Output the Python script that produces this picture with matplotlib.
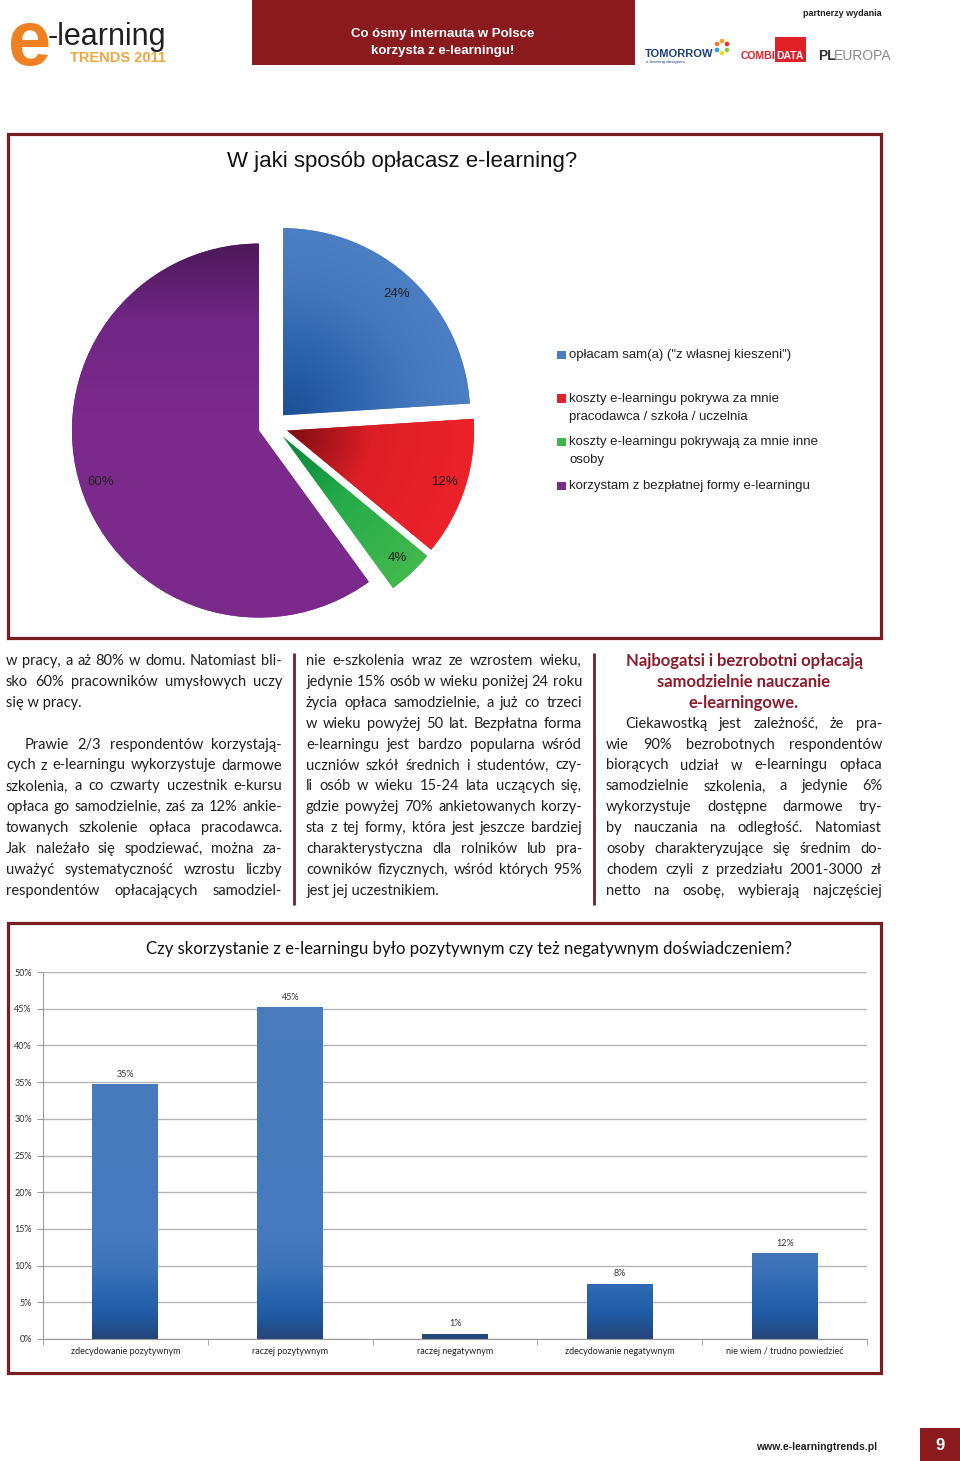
import numpy as np
import matplotlib
matplotlib.use("Agg")
import matplotlib.pyplot as plt
from matplotlib.patches import Rectangle, Circle
from matplotlib.colors import LinearSegmentedColormap

# ---------------- data ----------------
banner_lines = ["Co ósmy internauta w Polsce", "korzysta z e-learningu!"]

pie_title = "W jaki sposób opłacasz e-learning?"
pie_labels = ['opłacam sam(a) ("z własnej kieszeni")',
              'koszty e-learningu pokrywa za mnie\npracodawca / szkoła / uczelnia',
              'koszty e-learningu pokrywają za mnie inne\nosoby',
              'korzystam z bezpłatnej formy e-learningu']
pie_values = [24, 12, 4, 60]
pie_colors = ['#4a7cc1', '#e6212a', '#3db54b', '#7b2a8b']

bar_title = "Czy skorzystanie z e-learningu było pozytywnym czy też negatywnym doświadczeniem?"
bar_categories = ["zdecydowanie pozytywnym", "raczej pozytywnym", "raczej negatywnym",
                  "zdecydowanie negatywnym", "nie wiem / trudno powiedzieć"]
bar_values = [34.7, 45.2, 0.7, 7.5, 11.7]
bar_value_labels = ["35%", "45%", "1%", "8%", "12%"]
y_tick_values = [0, 5, 10, 15, 20, 25, 30, 35, 40, 45, 50]
y_tick_labels = ["0%", "5%", "10%", "15%", "20%", "25%", "30%", "35%", "40%", "45%", "50%"]

col1_paragraphs = [
    ["w pracy, a aż 80% w domu. Natomiast bli-",
     "sko 60% pracowników umysłowych uczy",
     "się w pracy."],
    [],
    ["Prawie 2/3 respondentów korzystają-",
     "cych z e-learningu wykorzystuje darmowe",
     "szkolenia, a co czwarty uczestnik e-kursu",
     "opłaca go samodzielnie, zaś za 12% ankie-",
     "towanych szkolenie opłaca pracodawca.",
     "Jak należało się spodziewać, można za-",
     "uważyć systematyczność wzrostu liczby",
     "respondentów opłacających samodziel-"],
]
col2_paragraphs = [
    ["nie e-szkolenia wraz ze wzrostem wieku,",
     "jedynie 15% osób w wieku poniżej 24 roku",
     "życia opłaca samodzielnie, a już co trzeci",
     "w wieku powyżej 50 lat. Bezpłatna forma",
     "e-learningu jest bardzo popularna wśród",
     "uczniów szkół średnich i studentów, czy-",
     "li osób w wieku 15-24 lata uczących się,",
     "gdzie powyżej 70% ankietowanych korzy-",
     "sta z tej formy, która jest jeszcze bardziej",
     "charakterystyczna dla rolników lub pra-",
     "cowników fizycznych, wśród których 95%",
     "jest jej uczestnikiem."],
]
col3_heading = ["Najbogatsi i bezrobotni opłacają", "samodzielnie nauczanie", "e-learningowe."]
col3_paragraphs = [
    ["Ciekawostką jest zależność, że pra-",
     "wie 90% bezrobotnych respondentów",
     "biorących udział w e-learningu opłaca",
     "samodzielnie szkolenia, a jedynie 6%",
     "wykorzystuje dostępne darmowe try-",
     "by nauczania na odległość. Natomiast",
     "osoby charakteryzujące się średnim do-",
     "chodem czyli z przedziału 2001-3000 zł",
     "netto na osobę, wybierają najczęściej"],
]
footer_url = "www.e-learningtrends.pl"
page_number = "9"

# ---------------- figure ----------------
W, H = 960, 1461
DARK_RED = '#7b1e22'
fig = plt.figure(figsize=(W / 100, H / 100), dpi=100)
fig.patch.set_facecolor('white')
bg = fig.add_axes([0, 0, 1, 1])
bg.set_xlim(0, W)
bg.set_ylim(H, 0)
bg.axis('off')
renderer = fig.canvas.get_renderer()

# ---------- header ----------
bg.text(30, 65, 'e', color='#f08122', fontsize=56, fontweight='bold',
        family='Liberation Sans', ha='center', va='baseline')
bg.text(48, 45, '-learning', color='#231f20', fontsize=22, family='Liberation Sans',
        ha='left', va='baseline')
bg.text(70, 58, 'TRENDS 2011', color='#f0a640', fontsize=10.5, fontweight='bold',
        family='Liberation Sans', ha='left', va='center')
bg.add_patch(Rectangle((252, 0), 383, 65, fc='#8a1a1e', ec='none'))
for i, s in enumerate(banner_lines):
    bg.text(443, 34 + 17 * i, s, color='white', fontsize=9.5, fontweight='bold',
            family='Liberation Sans', ha='center', va='center')
bg.text(882, 14, 'partnerzy wydania', color='#231f20', fontsize=6.5, fontweight='bold',
        family='Liberation Sans', ha='right', va='center')
bg.text(645, 57, 'TOMORROW', color='#1b3f7f', fontsize=8, fontweight='bold',
        family='Liberation Sans', ha='left', va='baseline')
bg.text(646, 62, 'e-learning designers', color='#1b3f7f', fontsize=3.2,
        family='Liberation Sans', ha='left', va='center')
for (dx, dy, c) in [(0, -6, '#f7a21b'), (5, -3, '#e4312b'), (5, 3, '#8dc63f'),
                    (0, 6, '#f9d71c'), (-5, 3, '#2e9fd8'), (-5, -3, '#ee7b30')]:
    bg.add_patch(Circle((722 + dx, 47 + dy), 2.3, fc=c, ec='none'))
bg.add_patch(Rectangle((775, 37), 31, 25, fc='#e11f26', ec='none'))
bg.text(775, 59, 'COMBI', color='#e11f26', fontsize=7.5, fontweight='bold',
        family='Liberation Sans', ha='right', va='baseline')
bg.text(776, 59, 'DATA', color='white', fontsize=7.5, fontweight='bold',
        family='Liberation Sans', ha='left', va='baseline')
bg.text(818, 60, 'PL', color='#333333', fontsize=10, fontweight='bold',
        family='Liberation Sans', ha='left', va='baseline')
bg.text(834, 60, 'EUROPA', color='#8a8a8a', fontsize=10,
        family='Liberation Sans', ha='left', va='baseline')

# ---------- frames ----------
bg.add_patch(Rectangle((7.5, 133.5), 873, 504, fill=False, ec=DARK_RED, lw=2.3))
bg.add_patch(Rectangle((7.5, 922.5), 873, 450, fill=False, ec=DARK_RED, lw=2.3))

# ---------- pie ----------
bg.text(402, 162, pie_title, color='#111111', fontsize=16, family='Liberation Sans',
        ha='center', va='center')
C = (273, 426)
R = 187.0
S = 215.0
pax = fig.add_axes([(C[0] - S) / W, (H - C[1] - S) / H, 2 * S / W, 2 * S / H])
wedges, texts, autotexts = pax.pie(
    pie_values, colors=pie_colors, startangle=90, counterclock=False,
    explode=[0.079] * len(pie_values), autopct=lambda p: f'{p:.0f}%',
    pctdistance=0.89, wedgeprops=dict(linewidth=0),
    textprops=dict(fontsize=9.5, family='Liberation Sans', color='#222222'))


def grad_image(ax, patch, extent, zfun, stops, n=300):
    xs = np.linspace(extent[0], extent[1], n)
    ys = np.linspace(extent[2], extent[3], n)
    X, Y = np.meshgrid(xs, ys)
    Z = np.clip(zfun(X, Y), 0, 1)
    cmap = LinearSegmentedColormap.from_list('g', stops)
    im = ax.imshow(Z, extent=extent, origin='lower', cmap=cmap, vmin=0, vmax=1,
                   aspect='auto', interpolation='bilinear',
                   zorder=patch.get_zorder() + 0.01)
    im.set_clip_path(patch)
    return im


pie_stops = [
    [(0, '#1b4e94'), (0.35, '#2c63ad'), (0.7, '#4477bc'), (1, '#4b7ec2')],
    [(0, '#7a0d12'), (0.45, '#dc1e26'), (1, '#ec222a')],
    [(0, '#07843a'), (0.45, '#24ab4a'), (1, '#43b84d')],
]
for w, st in zip(wedges[:3], pie_stops):
    cx, cy = w.center
    grad_image(pax, w, (cx - 1.05, cx + 1.05, cy - 1.05, cy + 1.05),
               lambda X, Y, cx=cx, cy=cy: np.hypot(X - cx, Y - cy), st)
pw = wedges[3]
pcx, pcy = pw.center
grad_image(pax, pw, (pcx - 1.05, pcx + 1.05, pcy - 1.05, pcy + 1.05),
           lambda X, Y: (pcy + 1.0 - Y) / 0.9,
           [(0, '#4c1a59'), (0.45, '#6f2684'), (1, '#7b2a8b')])
pax.set_xlim(-S / R, S / R)
pax.set_ylim(-S / R, S / R)

# legend
for i, (lab, col) in enumerate(zip(pie_labels, pie_colors)):
    y0 = 355 + 43.7 * i
    bg.add_patch(Rectangle((557, y0 - 4.5), 8.5, 8.5, fc=col, ec='none'))
    for j, line in enumerate(lab.split('\n')):
        bg.text(569, y0 + 18 * j, line, color='#222222', fontsize=9.5,
                family='Liberation Sans', ha='left', va='center')

# ---------- body text ----------
BODY_FONT = 'Lato'
COL_X = [6, 306, 606]
COL_W = 276
LINE_Y0 = 660
LINE_H = 20.9
INDENT = 19


def text_width(s, size, weight='normal', family=BODY_FONT):
    t = bg.text(0, 0, s, fontsize=size, family=family, fontweight=weight)
    w = t.get_window_extent(renderer).width
    t.remove()
    return w


all_lines = [l for par in col1_paragraphs + col2_paragraphs + col3_paragraphs for l in par]
maxw = max(text_width(l, 11) for l in all_lines)
body_size = 11 * min(1.0, (COL_W - 2) / maxw)


def draw_column(x0, start_line, paragraphs, indents, ends):
    li = start_line
    for par, ind, end in zip(paragraphs, indents, ends):
        if not par:
            li += 1
            continue
        for k, line in enumerate(par):
            yb = LINE_Y0 + LINE_H * li + 5
            xs = x0 + (INDENT if (ind and k == 0) else 0)
            target = x0 + COL_W - xs
            words = line.split(' ')
            last = end and k == len(par) - 1
            if last or len(words) == 1:
                bg.text(xs, yb, line, fontsize=body_size, family=BODY_FONT,
                        color='#231f20', ha='left', va='baseline')
            else:
                ws = [text_width(wd, body_size) for wd in words]
                gap = (target - sum(ws)) / (len(words) - 1)
                x = xs
                for wd, wdw in zip(words, ws):
                    bg.text(x, yb, wd, fontsize=body_size, family=BODY_FONT,
                            color='#231f20', ha='left', va='baseline')
                    x += wdw + gap
            li += 1


draw_column(COL_X[0], 0, col1_paragraphs, [False, False, True], [True, False, False])
draw_column(COL_X[1], 0, col2_paragraphs, [False], [True])
head_size = 12 * min(1.0, 252 / text_width(col3_heading[0], 12, 'bold'))
for i, s in enumerate(col3_heading):
    bg.text(744, LINE_Y0 + LINE_H * i + 6, s, fontsize=head_size, family=BODY_FONT,
            fontweight='bold', color='#8c1c2b', ha='center', va='baseline')
draw_column(COL_X[2], 3, col3_paragraphs, [True], [False])

for xv in (294, 594):
    bg.plot([xv, xv], [653, 905], color=DARK_RED, lw=2, solid_capstyle='butt')

# ---------- bar chart ----------
bg.text(469, 949, bar_title, color='#111111', fontsize=12.1, family=BODY_FONT,
        ha='center', va='center')
bax = fig.add_axes([43 / W, (H - 1339) / H, 824 / W, 367 / H])
bax.set_facecolor('none')
xpos = np.arange(len(bar_categories))
bars = bax.bar(xpos, bar_values, width=0.4, color='#4679bd', zorder=2)
bar_stops = [(0, '#25467a'), (0.06, '#1f5aa3'), (0.12, '#2a66b0'), (0.2, '#3f74b9'),
             (0.28, '#4679bd'), (1, '#4a7cbf')]
for b in bars:
    x0 = b.get_x()
    grad_image(bax, b, (x0, x0 + b.get_width(), 0, 50),
               lambda X, Y: Y / 50.0, bar_stops)
bax.set_xlim(-0.5, len(bar_categories) - 0.5)
bax.set_ylim(0, 50)
bax.set_yticks(y_tick_values)
bax.set_yticklabels(y_tick_labels)
bax.set_xticks(xpos)
bax.set_xticklabels(bar_categories)
bax.set_xticks(np.arange(len(bar_categories) + 1) - 0.5, minor=True)
bax.yaxis.grid(True, color='#b5b5b5', lw=1)
bax.set_axisbelow(True)
for sp in ('top', 'right'):
    bax.spines[sp].set_visible(False)
for sp in ('left', 'bottom'):
    bax.spines[sp].set_color('#9a9a9a')
bax.tick_params(axis='y', length=4, color='#9a9a9a', labelsize=6.5, pad=4,
                labelcolor='#333333')
bax.tick_params(axis='x', which='major', length=0, labelsize=6.5, pad=6,
                labelcolor='#222222')
bax.tick_params(axis='x', which='minor', length=4, color='#9a9a9a')
for lab in bax.get_xticklabels() + bax.get_yticklabels():
    lab.set_family(BODY_FONT)
bax.bar_label(bars, labels=bar_value_labels, padding=4, fontsize=6.5,
              family=BODY_FONT, color='#333333')

# ---------- footer ----------
bg.text(877, 1447, footer_url, color='#231f20', fontsize=7.5, fontweight='bold',
        family='Liberation Sans', ha='right', va='center')
bg.add_patch(Rectangle((920, 1428), 40, 33, fc='#8a1a1e', ec='none'))
bg.text(940, 1446, page_number, color='white', fontsize=12, fontweight='bold',
        family='Liberation Sans', ha='center', va='center')

fig.savefig('out.png', dpi=100, facecolor='white')
